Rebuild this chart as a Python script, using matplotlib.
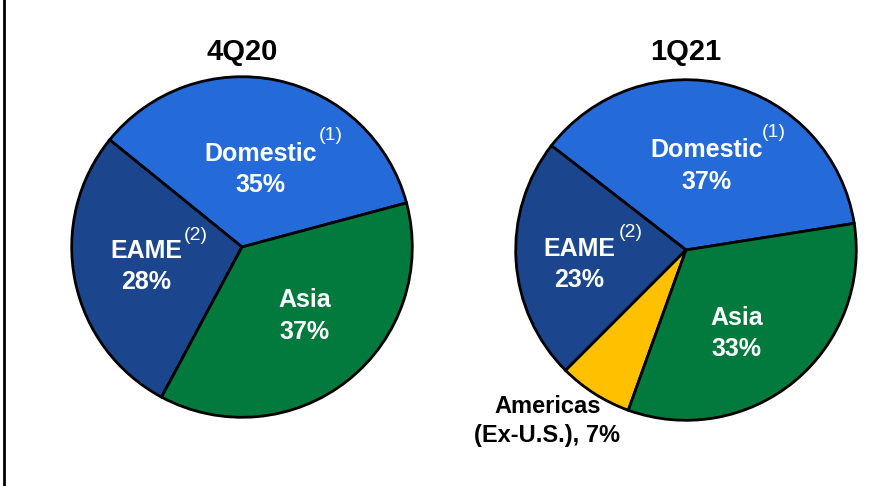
import matplotlib
matplotlib.use('Agg')
import matplotlib.pyplot as plt
from matplotlib.lines import Line2D

# data
titles = ['4Q20', '1Q21']
left_labels = ['Domestic', 'EAME', 'Asia']
left_values = [35, 28, 37]
right_labels = ['Domestic', 'EAME', 'Americas\n(Ex-U.S.)', 'Asia']
right_values = [37, 23, 7, 33]

colors = {
    'Domestic': '#246AD8',
    'EAME': '#1B458C',
    'Asia': '#037A3D',
    'Americas\n(Ex-U.S.)': '#FFC000',
}

plt.rcParams['font.family'] = ['Liberation Sans Narrow', 'Liberation Sans', 'DejaVu Sans']

fig = plt.figure(figsize=(8.84, 4.86), dpi=100)
fig.patch.set_facecolor('white')

ax_l = fig.add_axes([70 / 884, 67 / 486, 344 / 884, 344 / 486])
ax_r = fig.add_axes([514 / 884, 64 / 486, 344 / 884, 344 / 486])

wedge_kw = dict(edgecolor='black', linewidth=2)

ax_l.pie(left_values, colors=[colors[k] for k in left_labels],
         startangle=15, counterclock=True, radius=1, wedgeprops=wedge_kw)
ax_r.pie(right_values, colors=[colors[k] for k in right_labels],
         startangle=9, counterclock=True, radius=1, wedgeprops=wedge_kw)

for ax in (ax_l, ax_r):
    ax.set_xlim(-1.01, 1.01)
    ax.set_ylim(-1.01, 1.01)
    ax.set_aspect('equal')
    ax.axis('off')

lab_kw = dict(ha='center', va='center', color='white', fontsize=18,
              fontweight='bold', linespacing=1.4)
sup_kw = dict(ha='center', va='center', color='white', fontsize=14)

# left pie
ax_l.text(0, 1.145, titles[0], ha='center', va='center', fontsize=21,
          fontweight='bold', color='black')
ax_l.text(0.11, 0.455, 'Domestic\n%d%%' % left_values[0], **lab_kw)
ax_l.text(0.52, 0.655, '(1)', **sup_kw)
ax_l.text(-0.564, -0.115, 'EAME\n%d%%' % left_values[1], **lab_kw)
ax_l.text(-0.27, 0.065, '(2)', **sup_kw)
ax_l.text(0.366, -0.405, 'Asia\n%d%%' % left_values[2], **lab_kw)

# right pie
ax_r.text(0, 1.163, titles[1], ha='center', va='center', fontsize=21,
          fontweight='bold', color='black')
ax_r.text(0.122, 0.495, 'Domestic\n%d%%' % right_values[0], **lab_kw)
ax_r.text(0.515, 0.69, '(1)', **sup_kw)
ax_r.text(-0.628, -0.085, 'EAME\n%d%%' % right_values[1], **lab_kw)
ax_r.text(-0.325, 0.104, '(2)', **sup_kw)
ax_r.text(0.297, -0.49, 'Asia\n%d%%' % right_values[3], **lab_kw)
ax_r.text(-0.815, -1.005, 'Americas\n(Ex-U.S.), %d%%' % right_values[2],
          ha='center', va='center', color='black', fontsize=17,
          fontweight='bold', linespacing=1.3)

# frame line on the left edge
fig.add_artist(Line2D([3.5 / 884, 3.5 / 884], [0, 1], color='black',
                      linewidth=2, transform=fig.transFigure))

fig.savefig('out.png', dpi=100, facecolor='white')
